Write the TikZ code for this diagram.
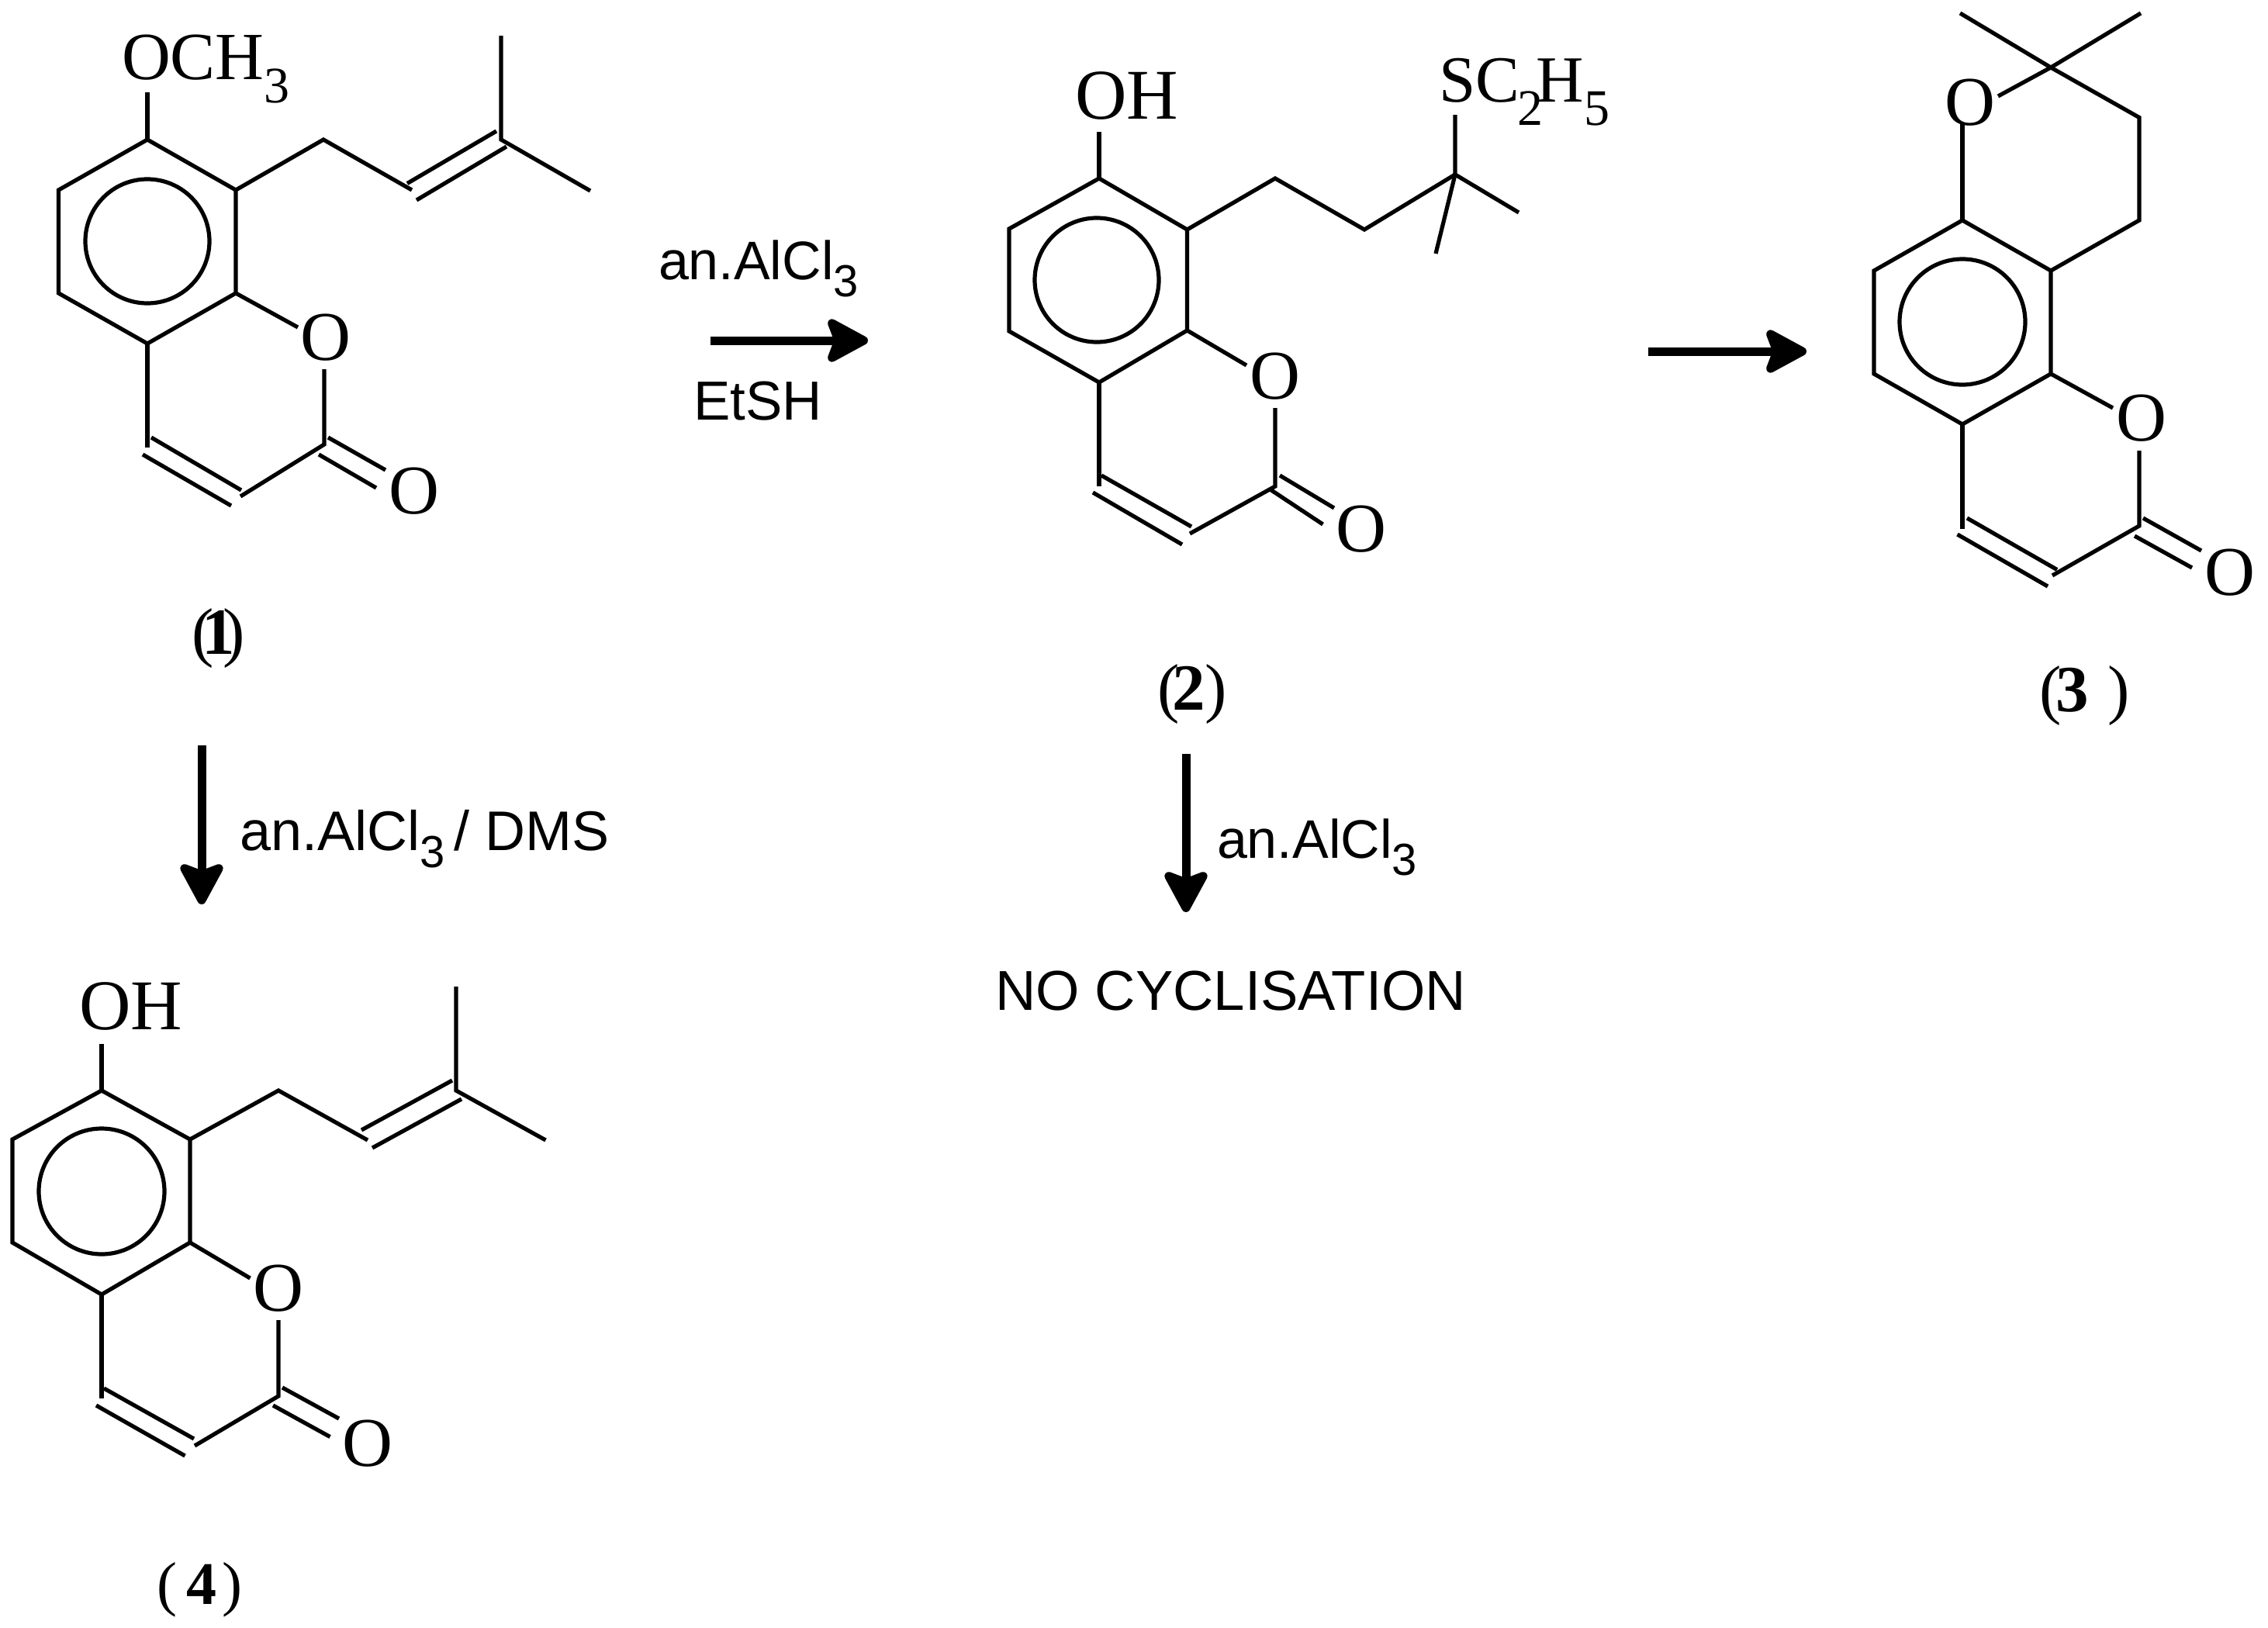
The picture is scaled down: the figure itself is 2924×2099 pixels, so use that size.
\documentclass[tikz,border=0pt]{standalone}
\usepackage{fontspec}
\setmainfont{Liberation Serif}
\newfontfamily\arialf{Liberation Sans}
\usetikzlibrary{arrows.meta}
\newcommand{\fs}[1]{\fontsize{#1}{#1}\selectfont}
\newcommand{\chemsub}[1]{\raisebox{-30pt}{\fs{66}#1}}
\newcommand{\rgtsub}[1]{\raisebox{-22pt}{\fs{58}#1}}
\tikzset{
  bond/.style={line width=5.2pt,line cap=butt,line join=miter},
  ringc/.style={line width=5.2pt},
  atom/.style={inner sep=0pt,outer sep=0pt,font=\fs{90}},
  atomb/.style={inner sep=0pt,outer sep=0pt,anchor=base west,font=\fs{87}},
  cmpd/.style={inner sep=0pt,outer sep=0pt,anchor=base west,font=\fs{85}},
  rgt/.style={inner sep=0pt,outer sep=0pt,anchor=base west,font=\arialf\fs{70}},
  rxn/.style={line width=11pt,-{Stealth[length=62pt,width=66pt,inset=12pt,round]}},
}
\begin{document}
\begin{tikzpicture}[x=1pt,y=-1pt]
\useasboundingbox (0,0) rectangle (2924,2099);
% ---------- compound 1
\coordinate (At) at (190,180);\coordinate (Aur) at (304,245);\coordinate (Alr) at (304,378);
\coordinate (Ab) at (190,443);\coordinate (All) at (75.5,378);\coordinate (Aul) at (75.5,245);
\coordinate (Aoe) at (190,119);\coordinate (Ac1) at (417,180);\coordinate (Ac2) at (531,245);
\coordinate (Ac3) at (646,180);\coordinate (Ame1) at (646,46);\coordinate (Ame2) at (761,246);
\coordinate (Ad1a) at (525,236.5);\coordinate (Ad1b) at (640,169);\coordinate (Ad2a) at (537,258);\coordinate (Ad2b) at (653,189);
\coordinate (Ao1) at (384,422);\coordinate (Ao2) at (418,476);\coordinate (Ack) at (418,573);\coordinate (Ac3r) at (310,640);
\coordinate (Ak1a) at (423,564);\coordinate (Ak1b) at (497,606);\coordinate (Ak2a) at (411,586);\coordinate (Ak2b) at (485,629);
\coordinate (Ac4) at (190,577);\coordinate (Ae1a) at (184,586);\coordinate (Ae1b) at (298,652);\coordinate (Ae2a) at (195,564);\coordinate (Ae2b) at (311,632);
\draw[bond] (At)--(Aur)--(Alr)--(Ab)--(All)--(Aul)--cycle;
\draw[ringc] (190,311) circle (80);
\draw[bond] (At)--(Aoe);
\draw[bond] (Aur)--(Ac1)--(Ac2);
\draw[bond] (Ad1a)--(Ad1b);\draw[bond] (Ad2a)--(Ad2b);
\draw[bond] (Ame1)--(Ac3)--(Ame2);
\draw[bond] (Alr)--(Ao1);\draw[bond] (Ao2)--(Ack)--(Ac3r);
\draw[bond] (Ak1a)--(Ak1b);\draw[bond] (Ak2a)--(Ak2b);
\draw[bond] (Ab)--(Ac4);
\draw[bond] (Ae1a)--(Ae1b);\draw[bond] (Ae2a)--(Ae2b);
\node[atomb] (Aome) at (157,102) {OCH\chemsub{3}};
\node[atom] (Aoring) at (420,435) {O};
\node[atom] (Aoket) at (534,633) {O};
\node[cmpd] (Alab) at (247,843) {(\kern-15pt\textbf{1}\kern-15pt)};
% ---------- compound 2
\coordinate (Bt) at (1417,230);\coordinate (Bur) at (1530.5,296);\coordinate (Blr) at (1530.5,426);
\coordinate (Bb) at (1417,493);\coordinate (Bll) at (1301,427);\coordinate (Bul) at (1301,295);
\coordinate (Boh) at (1417,170);\coordinate (Bc1) at (1644,230);\coordinate (Bc2) at (1759,296);\coordinate (Bc3) at (1876,225);
\coordinate (Bs) at (1876,148);\coordinate (Bme1) at (1958,274);\coordinate (Bme2) at (1851,327);
\coordinate (Bo1) at (1607,471);\coordinate (Bo2) at (1644,526);\coordinate (Bck) at (1644,627);\coordinate (Bc3r) at (1534,688);
\coordinate (Bk1a) at (1650,613);\coordinate (Bk1b) at (1720,655);\coordinate (Bk2a) at (1636,630);\coordinate (Bk2b) at (1705.5,676);
\coordinate (Bc4) at (1417,627);\coordinate (Be1a) at (1409,635);\coordinate (Be1b) at (1524,702);\coordinate (Be2a) at (1420,613);\coordinate (Be2b) at (1536,679);
\draw[bond] (Bt)--(Bur)--(Blr)--(Bb)--(Bll)--(Bul)--cycle;
\draw[ringc] (1414,361) circle (80);
\draw[bond] (Bt)--(Boh);
\draw[bond] (Bur)--(Bc1)--(Bc2)--(Bc3);
\draw[bond] (Bs)--(Bc3)--(Bme1);\draw[bond] (Bc3)--(Bme2);
\draw[bond] (Blr)--(Bo1);\draw[bond] (Bo2)--(Bck)--(Bc3r);
\draw[bond] (Bk1a)--(Bk1b);\draw[bond] (Bk2a)--(Bk2b);
\draw[bond] (Bb)--(Bc4);
\draw[bond] (Be1a)--(Be1b);\draw[bond] (Be2a)--(Be2b);
\node[atomb,font=\fs{92}] (Bohl) at (1386,153) {OH};
\node[atomb,font=\fs{85}] (Bsl) at (1855,131) {SC\kern-2pt\chemsub{2}\kern-9ptH\chemsub{5}};
\node[atom] (Boring) at (1644,485) {O};
\node[atom] (Boket) at (1755,682) {O};
\node[cmpd] (Blab) at (1492,915) {(\kern-9pt\textbf{2}\kern0pt)};
% ---------- compound 3
\coordinate (Ct) at (2530,284);\coordinate (Cur) at (2644,349);\coordinate (Clr) at (2644,482);
\coordinate (Cb) at (2530,547);\coordinate (Cll) at (2416,482);\coordinate (Cul) at (2416,349);
\coordinate (Cox) at (2530,160);\coordinate (Cq) at (2644,87);\coordinate (Cox2) at (2576,124);
\coordinate (Cme1) at (2527,17);\coordinate (Cme2) at (2760,17);\coordinate (Cch1) at (2758,151.5);\coordinate (Cch2) at (2758,284);
\coordinate (Co1) at (2724,526);\coordinate (Co2) at (2758,581);\coordinate (Cck) at (2758,678);\coordinate (Cc3r) at (2646,742);
\coordinate (Ck1a) at (2763,668);\coordinate (Ck1b) at (2838,710);\coordinate (Ck2a) at (2752,691);\coordinate (Ck2b) at (2826,732);
\coordinate (Cc4) at (2530,682);\coordinate (Ce1a) at (2523.5,689);\coordinate (Ce1b) at (2640,756);\coordinate (Ce2a) at (2536,668);\coordinate (Ce2b) at (2652,734.5);
\draw[bond] (Ct)--(Cur)--(Clr)--(Cb)--(Cll)--(Cul)--cycle;
\draw[ringc] (2530,415) circle (81);
\draw[bond] (Ct)--(Cox);
\draw[bond] (Cox2)--(Cq)--(Cme2);
\draw[bond] (Cme1)--(Cq)--(Cch1)--(Cch2)--(Cur);
\draw[bond] (Clr)--(Co1);\draw[bond] (Co2)--(Cck)--(Cc3r);
\draw[bond] (Ck1a)--(Ck1b);\draw[bond] (Ck2a)--(Ck2b);
\draw[bond] (Cb)--(Cc4);
\draw[bond] (Ce1a)--(Ce1b);\draw[bond] (Ce2a)--(Ce2b);
\node[atom] (Coring1) at (2540,132) {O};
\node[atom] (Coring2) at (2760.5,539) {O};
\node[atom] (Coket) at (2875,738) {O};
\node[cmpd] (Clab) at (2629,917) {(\kern-7pt\textbf{3}\kern25pt)};
% ---------- compound 4
\coordinate (Dt) at (131,1406);\coordinate (Dur) at (245,1469);\coordinate (Dlr) at (245,1602);
\coordinate (Db) at (131,1669);\coordinate (Dll) at (16,1602);\coordinate (Dul) at (16,1469);
\coordinate (Doh) at (131,1346);\coordinate (Dc1) at (359,1406);\coordinate (Dc2) at (474,1470);
\coordinate (Dc3) at (588,1406);\coordinate (Dme1) at (588,1272);\coordinate (Dme2) at (703.5,1470);
\coordinate (Dd1a) at (466,1457);\coordinate (Dd1b) at (583,1393);\coordinate (Dd2a) at (480,1480);\coordinate (Dd2b) at (595,1417);
\coordinate (Do1) at (322.5,1648);\coordinate (Do2) at (359,1702);\coordinate (Dck) at (359,1800);\coordinate (Dc3r) at (251,1864);
\coordinate (Dk1a) at (364,1789);\coordinate (Dk1b) at (437,1829);\coordinate (Dk2a) at (352,1812);\coordinate (Dk2b) at (425.5,1852.5);
\coordinate (Dc4) at (131,1803);\coordinate (De1a) at (124,1812);\coordinate (De1b) at (238.5,1877);\coordinate (De2a) at (134,1790);\coordinate (De2b) at (250,1855);
\draw[bond] (Dt)--(Dur)--(Dlr)--(Db)--(Dll)--(Dul)--cycle;
\draw[ringc] (131,1536) circle (81);
\draw[bond] (Dt)--(Doh);
\draw[bond] (Dur)--(Dc1)--(Dc2);
\draw[bond] (Dd1a)--(Dd1b);\draw[bond] (Dd2a)--(Dd2b);
\draw[bond] (Dme1)--(Dc3)--(Dme2);
\draw[bond] (Dlr)--(Do1);\draw[bond] (Do2)--(Dck)--(Dc3r);
\draw[bond] (Dk1a)--(Dk1b);\draw[bond] (Dk2a)--(Dk2b);
\draw[bond] (Db)--(Dc4);
\draw[bond] (De1a)--(De1b);\draw[bond] (De2a)--(De2b);
\node[atomb,font=\fs{92}] (Dohl) at (102,1327) {OH};
\node[atom] (Doring) at (359,1661) {O};
\node[atom] (Doket) at (474,1861) {O};
\node[cmpd,font=\fs{78}] (Dlab) at (202,2068) {(\kern13pt\textbf{4}\kern7pt)};
% ---------- reaction arrows
\coordinate (R1a) at (916,439);\coordinate (R1b) at (1119,439);
\coordinate (R2a) at (2125,453);\coordinate (R2b) at (2329,453);
\coordinate (R3a) at (260,961);\coordinate (R3b) at (260,1166);
\coordinate (R4a) at (1529,972);\coordinate (R4b) at (1529,1176);
\draw[rxn] (R1a)--(R1b);
\draw[rxn] (R2a)--(R2b);
\draw[rxn] (R3a)--(R3b);
\draw[rxn] (R4a)--(R4b);
\node[rgt] (T1) at (849,360) {an.AlCl\rgtsub{3}};
\node[rgt,font=\arialf\fs{71}] (T2) at (894,541) {EtSH};
\node[rgt,font=\arialf\fs{72}] (T3) at (309,1096.5) {an.AlCl\rgtsub{3}\,/ DMS};
\node[rgt] (T4) at (1569,1106) {an.AlCl\rgtsub{3}};
\node[rgt,font=\arialf\fs{72.5}] (T5) at (1283,1302) {NO CYCLISATION};
\end{tikzpicture}
\end{document}
